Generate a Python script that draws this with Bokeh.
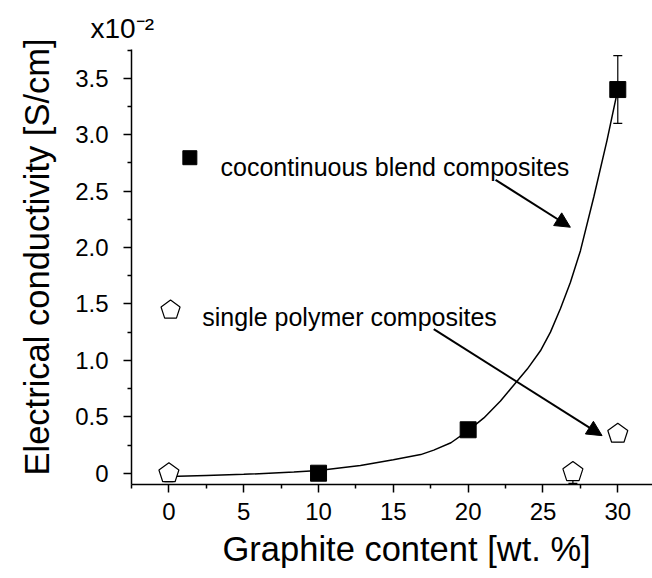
import math
from bokeh.plotting import figure
from bokeh.models import (Range1d, FixedTicker, Label, Arrow, NormalHead, Whisker,
                          ColumnDataSource, TeeHead, Title)
from bokeh.embed import file_html
from bokeh.resources import INLINE

# ---- data ----
blend_x = [10, 20, 30]
blend_y = [0.0, 0.385, 3.40]
blend_err_x = [30]
blend_lo = [3.10]
blend_hi = [3.70]

single_x = [0, 27, 30]
single_y = [0.0, 0.01, 0.35]
single_lo = [-0.075, -0.09, 0.28]
single_hi = [0.024, 0.024, 0.385]

fit_x = [0, 2.5, 5, 8.35, 10, 12.8, 15.0, 16.83, 17.7, 18.85, 20.0, 21.05, 22.16, 22.83,
         23.95, 24.83, 25.5, 26.17, 26.83, 27.5, 28.4, 29.28, 30.0]
fit_y = [-0.03, -0.02, -0.01, 0.01, 0.024, 0.068, 0.12, 0.165, 0.205, 0.27, 0.378, 0.49, 0.64, 0.746,
         0.923, 1.085, 1.25, 1.46, 1.69, 1.97, 2.45, 2.95, 3.40]

x_ticks = [0, 5, 10, 15, 20, 25, 30]
x_minor = [-2.5, 2.5, 7.5, 12.5, 17.5, 22.5, 27.5]
y_ticks = [0, 0.5, 1.0, 1.5, 2.0, 2.5, 3.0, 3.5]
y_minor = [0.25, 0.75, 1.25, 1.75, 2.25, 2.75, 3.25, 3.75]
y_tick_labels = {0: "0", 0.5: "0.5", 1.0: "1.0", 1.5: "1.5", 2.0: "2.0", 2.5: "2.5", 3.0: "3.0", 3.5: "3.5"}

blend_label = "cocontinuous blend composites"
single_label = "single polymer composites"
x_title = "Graphite content [wt. %]"
y_title = "Electrical conductivity [S/cm]"
scale_text = "x10\u207b\u00b2"

FONT = "Liberation Sans"
W, H = 652, 578
BL, BR, BT, BB = 131, 0, 49, 94
X0, X1 = -2.5, 32.32
Y0, Y1 = -0.1, 3.755

p = figure(width=W, height=H, output_backend="svg", toolbar_location=None,
           x_range=Range1d(X0, X1), y_range=Range1d(Y0, Y1),
           min_border_left=BL, min_border_right=BR, min_border_top=BT, min_border_bottom=BB)
p.outline_line_color = None
p.grid.visible = False
p.background_fill_color = "white"

for ax in (p.xaxis[0], p.yaxis[0]):
    ax.axis_line_width = 1.5
    ax.axis_line_color = "black"
    ax.major_tick_line_width = 1.5
    ax.minor_tick_line_width = 1.5
    ax.major_tick_out = 8
    ax.major_tick_in = 0
    ax.minor_tick_out = 4
    ax.minor_tick_in = 0
    ax.major_label_text_font = FONT
    ax.major_label_text_font_size = "24px"
    ax.major_label_text_color = "black"

p.xaxis[0].ticker = FixedTicker(ticks=x_ticks, minor_ticks=x_minor)
p.yaxis[0].ticker = FixedTicker(ticks=y_ticks, minor_ticks=y_minor)
p.yaxis[0].major_label_overrides = y_tick_labels
p.xaxis[0].major_label_standoff = 10
p.yaxis[0].major_label_standoff = 15

# scale factor as the plot title (top-left, outside the frame)
p.title.text = scale_text
p.title.align = "left"
p.title.offset = -41
p.title.standoff = 12
p.title.text_font = FONT
p.title.text_font_size = "28px"
p.title.text_font_style = "normal"
p.title.text_color = "black"

# axis titles as side-panel titles
xt = Title(text=x_title, align="left", offset=91, vertical_align="top", standoff=15,
           text_font=FONT, text_font_size="34.5px", text_font_style="normal", text_color="black")
p.add_layout(xt, "below")
yt = Title(text=y_title, align="left", offset=9, vertical_align="top", standoff=30,
           text_font=FONT, text_font_size="34.5px", text_font_style="normal", text_color="black")
p.add_layout(yt, "left")

# fit curve
p.line(fit_x, fit_y, line_color="black", line_width=1.5)

# error bars
bsrc = ColumnDataSource(dict(x=blend_err_x, lo=blend_lo, hi=blend_hi))
p.add_layout(Whisker(source=bsrc, base="x", lower="lo", upper="hi", line_width=1.2,
                     upper_head=TeeHead(size=9, line_width=1.2),
                     lower_head=TeeHead(size=9, line_width=1.2)))

# pentagons (sized in pixels, placed at data points)
ppx = (W - BL - BR) / (X1 - X0)
ppy = (H - BT - BB) / (Y1 - Y0)

def pentagon(xc, yc, r):
    xs, ys = [], []
    for k in range(5):
        a = math.pi / 2 + 2 * math.pi * k / 5
        xs.append(xc + r * math.cos(a) / ppx)
        ys.append(yc + r * math.sin(a) / ppy)
    return xs, ys

pxs, pys = [], []
for xc, yc in zip(single_x, single_y):
    a, b = pentagon(xc, yc, 10.5)
    pxs.append(a)
    pys.append(b)
p.patches(pxs, pys, fill_color="white", line_color="black", line_width=1.2)

ssrc = ColumnDataSource(dict(x=single_x, lo=single_lo, hi=single_hi))
p.add_layout(Whisker(source=ssrc, base="x", lower="lo", upper="hi", line_width=1.2,
                     upper_head=TeeHead(size=9, line_width=1.2),
                     lower_head=TeeHead(size=9, line_width=1.2)))

# squares
p.scatter(blend_x, blend_y, marker="square", size=16, fill_color="black", line_color="black")

# legend-like annotations
p.scatter([1.40], [2.796], marker="square", size=14, fill_color="black", line_color="black")
lx, ly = pentagon(0.11, 1.446, 10)
p.patch(lx, ly, fill_color="white", line_color="black", line_width=1.2)

p.add_layout(Label(x=3.45, y=2.714, text=blend_label, text_font=FONT, text_font_size="25px",
                   text_color="black", text_baseline="alphabetic", text_align="left"))
p.add_layout(Label(x=2.23, y=1.387, text=single_label, text_font=FONT, text_font_size="25px",
                   text_color="black", text_baseline="alphabetic", text_align="left"))

# arrows
p.add_layout(Arrow(end=NormalHead(size=15, fill_color="black", line_color="black"),
                   x_start=21.83, y_start=2.60, x_end=26.83, y_end=2.18, line_width=2))
p.add_layout(Arrow(end=NormalHead(size=15, fill_color="black", line_color="black"),
                   x_start=17.7, y_start=1.277, x_end=28.95, y_end=0.333, line_width=2))

open("out.html", "w").write(file_html(p, INLINE))
